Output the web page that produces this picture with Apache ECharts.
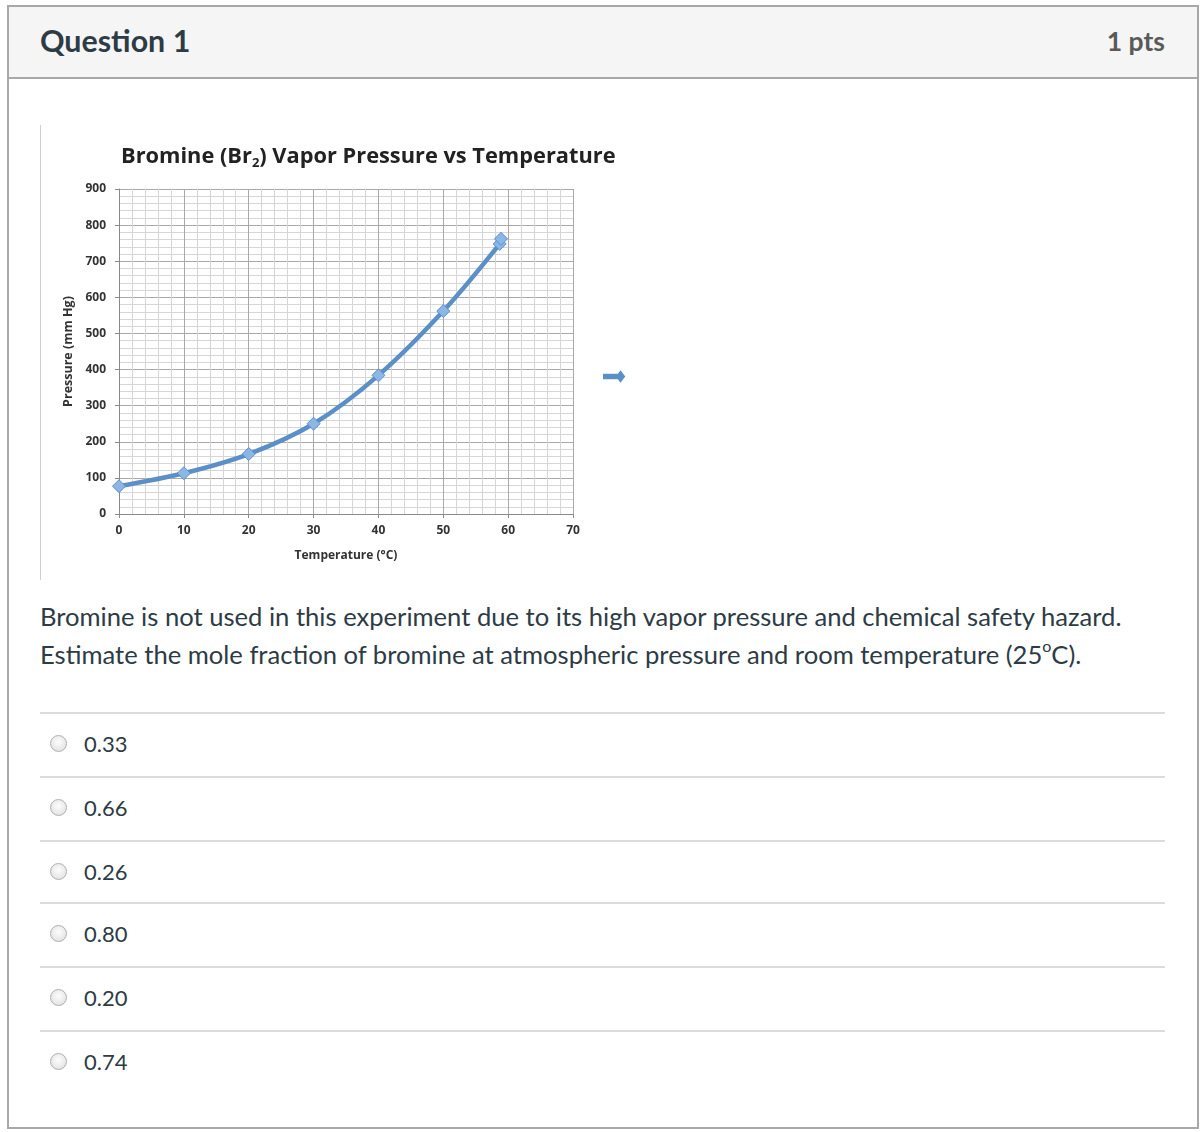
<!DOCTYPE html>
<html>
<head>
<meta charset="utf-8">
<script src="https://cdn.jsdelivr.net/npm/echarts@6/dist/echarts.min.js"></script>
<style>
  body { margin: 0; background: #fff; font-family: Lato, "Open Sans", sans-serif; color: #2d3b45; }
  .box { position: absolute; left: 7px; top: 5px; width: 1188px; height: 1120px; border: 2px solid #a8a8a8; }
  .head { position: absolute; left: 0; top: 0; width: 1188px; height: 70px; background: #f5f5f5; border-bottom: 2px solid #a8a8a8; }
  .qtitle { position: absolute; left: 31px; top: 15px; font-size: 30.4px; font-weight: bold; color: #2d3b45; }
  .pts { position: absolute; right: 32px; top: 18px; font-size: 26.5px; font-weight: bold; color: #5a5a5a; }
  #chart { position: absolute; left: 40px; top: 125px; width: 600px; height: 455px; border-left: 1px solid #cfcfcf; }
  .qtext { position: absolute; left: 40px; top: 597px; font-size: 25.6px; line-height: 38px; color: #2d3b45; white-space: nowrap; }
  .qtext sup { font-size: 16px; line-height: 0; position: relative; top: -2px; vertical-align: super; }
  .row { position: absolute; left: 40px; width: 1125px; border-top: 2px solid #dcdcdc; }
  .radio { position: absolute; left: 10px; width: 15px; height: 15px; border-radius: 50%; border: 1px solid #b0b0b0;
           background: radial-gradient(circle at 50% 40%, #fdfdfd 0%, #e6e6e6 70%, #d0d0d0 100%); }
  .ans { position: absolute; left: 44px; font-size: 22px; color: #2d3b45; }
</style>
</head>
<body>
<div class="box">
  <div class="head">
    <div class="qtitle">Question 1</div>
    <div class="pts">1 pts</div>
  </div>
</div>
<div id="chart"></div>
<div class="qtext">Bromine is not used in this experiment due to its high vapor pressure and chemical safety hazard.<br>Estimate the mole fraction of bromine at atmospheric pressure and room temperature (25<sup>o</sup>C).</div>
<div id="answers"></div>
<script>
  // temperature (°C) and vapor pressure (mm Hg)
  var temperatures = [0, 10, 20, 30, 40, 50, 58.7, 58.9];
  var pressures = [77, 113, 166, 250, 384, 562, 748, 762];

  var choices = ['0.33', '0.66', '0.26', '0.80', '0.20', '0.74'];
  var rowTops = [712, 776, 840, 902, 966, 1030];

  // answer list
  var answersEl = document.getElementById('answers');
  choices.forEach(function (c, i) {
    var row = document.createElement('div');
    row.className = 'row';
    row.style.top = rowTops[i] + 'px';
    row.style.height = '62px';
    row.innerHTML = '<div class="radio" style="top:21px"></div><div class="ans" style="top:16px">' + c + '</div>';
    answersEl.appendChild(row);
  });

  var points = temperatures.map(function (t, i) {
    return [t, pressures[i]];
  });

  var myChart = echarts.init(document.getElementById('chart'));

  var labelFont = { fontFamily: 'Open Sans', fontWeight: 'bold', fontSize: 12, color: '#333' };

  var option = {
    animation: false,
    title: {
      text: '{a|Bromine (Br}{s|2}{a|) Vapor Pressure vs Temperature}',
      left: 75,
      top: 14,
      textStyle: {
        rich: {
          a: { fontFamily: 'Open Sans', fontWeight: 'bold', fontSize: 21.8, color: '#222', lineHeight: 26, verticalAlign: 'middle' },
          s: { fontFamily: 'Open Sans', fontWeight: 'bold', fontSize: 13, color: '#222', lineHeight: 12, verticalAlign: 'bottom', padding: [6, 0, 0, 0] }
        }
      }
    },
    legend: {
      left: 557,
      top: 241,
      itemWidth: 20,
      itemHeight: 10,
      icon: 'path://M0,3.3 L14,3.3 L14,6.7 L0,6.7 Z M13,5 L16.5,0.5 L20,5 L16.5,9.5 Z',
      itemStyle: { color: '#5b8fc7' },
      formatter: function () { return ''; },
      data: ['Series1']
    },
    grid: {
      left: 78,
      top: 64,
      width: 454,
      height: 325
    },
    xAxis: {
      type: 'value',
      min: 0,
      max: 70,
      interval: 10,
      name: 'Temperature (°C)',
      nameLocation: 'middle',
      nameGap: 36,
      nameTextStyle: { fontFamily: 'Open Sans', fontWeight: 'bold', fontSize: 12, color: '#333' },
      axisLine: { show: true, lineStyle: { color: '#8a8a8a', width: 1 } },
      axisTick: { show: true, length: 4, lineStyle: { color: '#8a8a8a' } },
      axisLabel: Object.assign({ margin: 11 }, labelFont),
      splitLine: { show: true, lineStyle: { color: '#a9a9a9', width: 1 } },
      minorTick: { show: false, splitNumber: 5 },
      minorSplitLine: { show: true, lineStyle: { color: '#d6d6d6', width: 1 } }
    },
    yAxis: {
      type: 'value',
      min: 0,
      max: 900,
      interval: 100,
      name: 'Pressure (mm Hg)',
      nameLocation: 'middle',
      nameGap: 41,
      nameTextStyle: { fontFamily: 'Open Sans', fontWeight: 'bold', fontSize: 12.5, color: '#333' },
      axisLine: { show: true, lineStyle: { color: '#8a8a8a', width: 1 } },
      axisTick: { show: true, length: 4, lineStyle: { color: '#8a8a8a' } },
      axisLabel: Object.assign({ margin: 13 }, labelFont),
      splitLine: { show: true, lineStyle: { color: '#a9a9a9', width: 1 } },
      minorTick: { show: false, splitNumber: 5 },
      minorSplitLine: { show: true, lineStyle: { color: '#d6d6d6', width: 1 } }
    },
    series: [
      {
        name: 'Series1',
        type: 'line',
        smooth: 0.3,
        data: points,
        symbol: 'diamond',
        symbolSize: 13,
        lineStyle: { color: '#5b8fc7', width: 4.5 },
        itemStyle: { color: '#8bb6e6', borderColor: '#5b8fc7', borderWidth: 1 }
      }
    ]
  };

  myChart.setOption(option);
</script>
</body>
</html>
